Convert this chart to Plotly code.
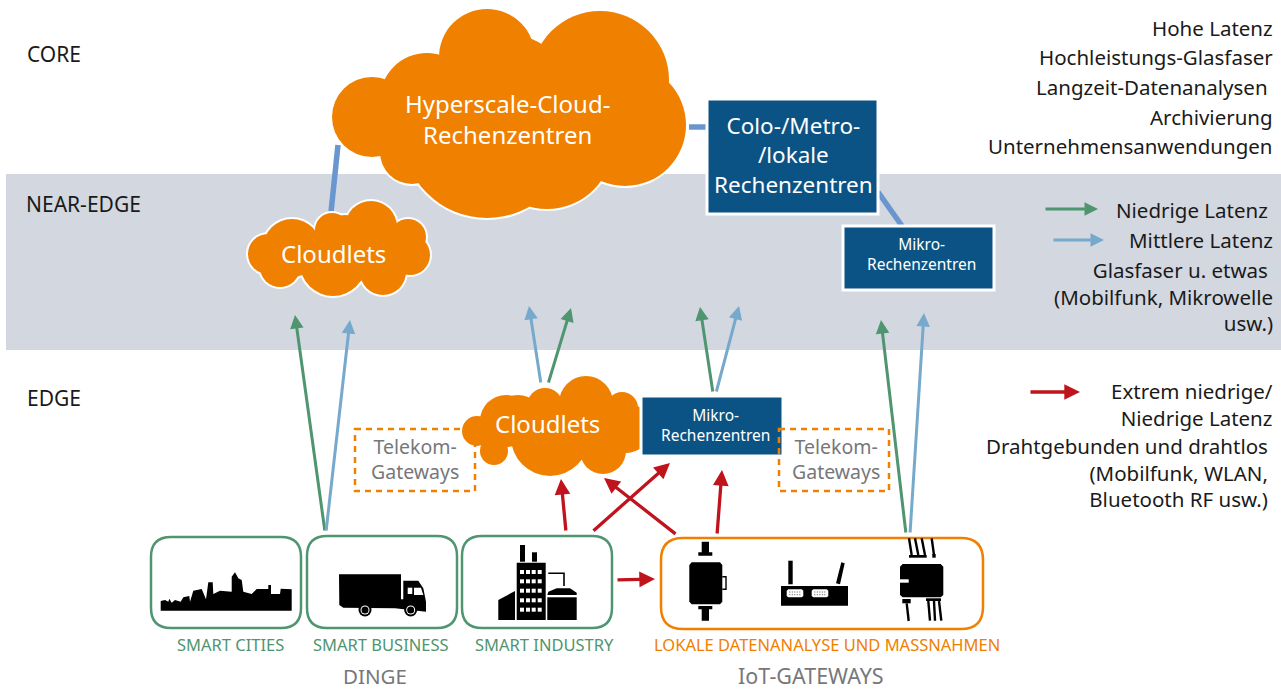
import plotly.graph_objects as go

FONT = "Noto Sans"
ORANGE = "#F08000"
NAVY = "#0B5384"
GREEN = "#4F9570"
SKY = "#76A9CC"
RED = "#C0141C"
LINK = "#6A96CF"
BAND = "#D3D7E0"
GREY = "#77777A"

# ---- layer labels
layer_labels = [("CORE", 27, 54), ("NEAR-EDGE", 26, 204), ("EDGE", 27, 398)]

# ---- right-hand notes: text, right edge, y
notes = [
    ("Hohe Latenz", 1273, 28), ("Hochleistungs-Glasfaser", 1273, 57),
    ("Langzeit-Datenanalysen", 1268, 87), ("Archivierung", 1273, 117),
    ("Unternehmensanwendungen", 1273, 146),
    ("Niedrige Latenz", 1268, 210), ("Mittlere Latenz", 1273, 240),
    ("Glasfaser u. etwas&nbsp;<br>(Mobilfunk, Mikrowelle<br>usw.)", 1273, 296),
    ("Extrem niedrige/<br>Niedrige Latenz", 1273, 404),
    ("Drahtgebunden und drahtlos<br>(Mobilfunk, WLAN,<br>Bluetooth RF usw.)", 1268, 472.5),
]

# ---- clouds: circles (cx, cy, r)
hyperscale = [(372, 117, 40), (427, 100, 47), (487, 57, 48), (600, 80, 69), (625, 125, 61),
              (487, 133, 85), (547, 143, 66), (412, 152, 32), (510, 95, 60), (560, 110, 60)]
cloudlet_near = [(268, 254, 20), (292, 248, 29), (332, 230, 17), (371, 227, 26), (408, 237, 18),
                 (410, 255, 20), (383, 272, 23), (333, 263, 33), (280, 267, 20), (345, 250, 35),
                 (378, 250, 26)]
cloudlet_edge = [(477, 431, 15), (506, 421, 26), (518, 421, 26), (545, 406, 18), (586, 403, 27),
                 (622, 408, 16), (626, 428, 25), (603, 451, 23), (550, 437, 39), (494, 451, 14),
                 (590, 430, 26)]
cloud_texts = [("Hyperscale-Cloud-<br>Rechenzentren", 507, 119, 24),
               ("Cloudlets", 333, 253, 24), ("Cloudlets", 547, 423, 24)]

# ---- data-centre boxes: x0, y0, x1, y1
boxes = [(707, 99, 878, 214), (843, 226, 994, 290), (641, 396, 783, 456)]
box_texts = [("Colo-/Metro-<br>/lokale<br>Rechenzentren", 793, 155, 22.5),
             ("Mikro-<br>Rechenzentren", 921, 254, 15.5),
             ("Mikro-<br>Rechenzentren", 715, 425, 15.5)]

# ---- links between sites
links = [((338, 145), (331, 212)), ((689, 127), (706, 127)), ((878, 192), (902, 226))]

# ---- arrows: tail, head
green_arrows = [((325, 532), (295, 315)), ((548, 384), (571, 308)), ((713, 393), (700, 307)),
                ((906, 534), (881, 320)), ((1044, 209), (1098, 209))]
blue_arrows = [((326, 532), (350, 320)), ((541, 384), (529, 306)), ((716, 393), (739, 306)),
               ((910, 534), (924, 313)), ((1052, 240), (1104, 240))]
red_arrows = [((566, 532), (561, 479)), ((592, 532), (670, 463)), ((677, 535), (604, 478)),
              ((717, 535), (722, 470)), ((616, 580), (655, 579)), ((1029, 392), (1080, 392))]

# ---- telekom gateways
dashed = [(355, 429, 475, 491), (779, 429, 889, 491)]
grey_texts = [("Telekom-<br>Gateways", 415, 459, 19.5), ("Telekom-<br>Gateways", 836, 459, 19.5),
              ("DINGE", 375, 675.5, 20.5), ("IoT-GATEWAYS", 811, 675, 21.5)]

# ---- bottom frames
green_frames = [(151, 537, 301, 628), (307, 536, 457, 628), (462, 536, 612, 628)]
orange_frames = [(661, 538, 983, 629)]
frame_labels = [("SMART CITIES", 230, 644, GREEN), ("SMART BUSINESS", 381, 644, GREEN),
                ("SMART INDUSTRY", 544, 644, GREEN),
                ("LOKALE DATENANALYSE UND MASSNAHMEN", 827, 644, ORANGE)]

ORG1 = (140, 520)
ORG2 = (640, 520)
skyline = [(62,272),(62,243),(75,240),(85,245),(88,236),(95,248),(105,240),(122,245),(130,232),(148,228),
           (150,245),(160,212),(185,207),(198,238),(205,187),(218,187),(220,222),(240,212),(275,215),
           (275,170),(285,157),(295,175),(305,180),(310,215),(335,222),(350,207),(385,207),(385,195),
           (393,195),(393,222),(420,222),(422,206),(455,208),(455,272)]
truck = [(597,163),(783,163),(783,238),(790,238),(790,182),(835,182),(850,205),(858,245),(858,275),
         (765,265),(610,263),(598,255)]
truck_win = [[(803,203),(817,203),(817,222),(803,222)], [(822,203),(843,203),(850,225),(822,225)]]
truck_wheels = [(675, 270), (812, 270)]
factory_black = [[(1075,300),(1075,240),(1125,213),(1125,300)], [(1130,128),(1217,128),(1217,300),(1130,300)],
                 [(1140,75),(1155,75),(1155,125),(1140,125)], [(1176,97),(1191,97),(1191,125),(1176,125)],
                 [(1222,225),(1225,215),(1250,205),(1290,205),(1310,218),(1310,225)],
                 [(1222,232),(1310,232),(1310,300),(1222,300)]]
win_x = [1140, 1158, 1175, 1193]
win_y = [150, 178, 206, 235, 263]
factory_pipe = [(1225,160),(1272,160),(1272,198)]
gw_black = [[(148,135),(155,127),(240,127),(247,135),(247,245),(240,253),(155,253),(148,245)],
            [(185,65),(207,65),(207,97),(217,97),(217,107),(175,107),(175,97),(185,97)],
            [(175,258),(217,258),(217,268),(207,268),(207,302),(185,302),(185,268),(175,268)],
            [(423,198),(624,198),(624,257),(423,257)],
            [(445,122),(458,122),(458,193),(445,193)],
            [(604,127),(614,130),(600,193),(588,190)],
            [(780,140),(788,132),(902,132),(910,140),(910,225),(902,232),(788,232),(780,225)],
            [(807,105),(860,105),(860,113),(807,113)], [(877,102),(887,102),(887,113),(877,113)],
            [(787,237),(812,237),(812,250),(787,250)], [(858,235),(903,235),(903,243),(858,243)]]
gw_white = [[(440,212),(445,208),(485,208),(490,212),(490,228),(485,232),(445,232),(440,228)],
            [(515,212),(520,208),(560,208),(565,212),(565,228),(560,232),(520,232),(515,228)],
            [(772,178),(806,178),(806,188),(772,188)]]
gw_port_pins = [[(448,216),(482,216)], [(448,224),(482,224)], [(523,216),(557,216)], [(523,224),(557,224)]]
gw_wires = [[(807,55),(815,105)], [(825,55),(835,105)], [(845,55),(855,105)], [(875,55),(882,105)],
            [(800,250),(806,303)], [(865,243),(870,302)], [(882,243),(885,302)], [(897,243),(904,302)],
            [(247,170),(258,170),(258,208),(247,208)]]


def to_px(pts, org):
    return [(org[0] + x / 3, org[1] + y / 3) for x, y in pts]


def poly(pts, fill="black"):
    path = "M" + " L".join(f"{x:.1f},{y:.1f}" for x, y in pts) + " Z"
    return dict(type="path", path=path, fillcolor=fill, line_width=0, xref="x", yref="y")


def stroke(pts, width, color="black", dash=None):
    path = "M" + " L".join(f"{x:.1f},{y:.1f}" for x, y in pts)
    return dict(type="path", path=path, line=dict(color=color, width=width, dash=dash), xref="x", yref="y")


def rounded(x0, y0, x1, y1, r, color, width):
    p = (f"M{x0+r},{y0} L{x1-r},{y0} Q{x1},{y0} {x1},{y0+r} L{x1},{y1-r} Q{x1},{y1} {x1-r},{y1} "
         f"L{x0+r},{y1} Q{x0},{y1} {x0},{y1-r} L{x0},{y0+r} Q{x0},{y0} {x0+r},{y0} Z")
    return dict(type="path", path=p, line=dict(color=color, width=width), xref="x", yref="y")


def circle(cx, cy, r, fill, line=None, lw=0):
    return dict(type="circle", x0=cx-r, x1=cx+r, y0=cy-r, y1=cy+r, fillcolor=fill,
                line=dict(color=line or fill, width=lw), xref="x", yref="y")


shapes = [dict(type="rect", x0=6, x1=1281, y0=174, y1=350, fillcolor=BAND, line_width=0, xref="x", yref="y")]
for a, b in links:
    shapes.append(dict(type="line", x0=a[0], y0=a[1], x1=b[0], y1=b[1], line=dict(color=LINK, width=5.5), xref="x", yref="y"))
for cloud in (hyperscale, cloudlet_near, cloudlet_edge):
    shapes += [circle(c[0], c[1], c[2] + 2, "white") for c in cloud]
    shapes += [circle(c[0], c[1], c[2], ORANGE) for c in cloud]
for b in boxes:
    shapes.append(dict(type="rect", x0=b[0], y0=b[1], x1=b[2], y1=b[3], fillcolor=NAVY,
                       line=dict(color="white", width=3), xref="x", yref="y"))
for d in dashed:
    shapes.append(dict(type="rect", x0=d[0], y0=d[1], x1=d[2], y1=d[3], line=dict(color=ORANGE, width=2.5, dash="6px,5px"), xref="x", yref="y"))
for f in green_frames:
    shapes.append(rounded(*f, 20, GREEN, 2.5))
for f in orange_frames:
    shapes.append(rounded(*f, 22, ORANGE, 2.5))

# icons
shapes.append(poly(to_px(skyline, ORG1)))
shapes.append(poly(to_px(truck, ORG1)))
shapes += [poly(to_px(w, ORG1), "white") for w in truck_win]
for wx, wy in truck_wheels:
    cx, cy = ORG1[0] + wx / 3, ORG1[1] + wy / 3
    shapes += [circle(cx, cy, 6.5, "black"), circle(cx, cy, 4.5, "white"), circle(cx, cy, 3.5, "black")]
shapes += [poly(to_px(p, ORG1)) for p in factory_black]
for wx in win_x:
    for wy in win_y:
        shapes.append(poly(to_px([(wx, wy), (wx+12, wy), (wx+12, wy+12), (wx, wy+12)], ORG1), "white"))
shapes.append(stroke(to_px(factory_pipe, ORG1), 1.6))
shapes += [poly(to_px(p, ORG2)) for p in gw_black]
shapes += [poly(to_px(p, ORG2), "white") for p in gw_white]
shapes += [stroke(to_px(p, ORG2), 1, "#555555", "1px,1.5px") for p in gw_port_pins]
shapes += [stroke(to_px(p, ORG2), 2.4) for p in gw_wires[:-1]]
shapes += [stroke(to_px(gw_wires[-1], ORG2), 1.4)]

ann = []


def text(t, x, y, size, color, anchor="center"):
    ann.append(dict(text=t, x=x, y=y, xref="x", yref="y", xanchor=anchor, yanchor="middle", showarrow=False,
                    align=anchor if anchor != "left" else "left",
                    borderpad=0, borderwidth=0, font=dict(family=FONT, size=size, color=color)))


for t, x, y in layer_labels:
    text(t, x, y, 21, "#1a1a1a", "left")
for t, x, y in notes:
    text(t, x, y, 20.5, "#1a1a1a", "right")
for t, x, y, s in cloud_texts + box_texts:
    text(t, x, y, s, "white")
for t, x, y, s in grey_texts:
    text(t, x, y, s, GREY)
for t, x, y, c in frame_labels:
    text(t, x, y, 16.5, c)

for group, col, w, sz in ((green_arrows, GREEN, 3, 0.9), (blue_arrows, SKY, 3, 0.9), (red_arrows, RED, 3.3, 0.95)):
    for tail, head in group:
        ann.append(dict(x=head[0], y=head[1], ax=tail[0], ay=tail[1], xref="x", yref="y", axref="x", ayref="y",
                        text="", showarrow=True, arrowhead=2, arrowsize=sz, arrowwidth=w, arrowcolor=col))

fig = go.Figure(go.Scatter(x=[0, 1281], y=[0, 690], mode="markers", marker=dict(opacity=0), hoverinfo="skip"))
fig.update_layout(width=1281, height=690, margin=dict(l=0, r=0, t=0, b=0), showlegend=False,
                  paper_bgcolor="white", plot_bgcolor="white", shapes=shapes, annotations=ann,
                  xaxis=dict(range=[0, 1281], visible=False, fixedrange=True),
                  yaxis=dict(range=[690, 0], visible=False, fixedrange=True))
fig.write_html("out.html", config=dict(displayModeBar=False),
               post_script="document.body.style.margin='0';document.documentElement.style.overflow='hidden';")
